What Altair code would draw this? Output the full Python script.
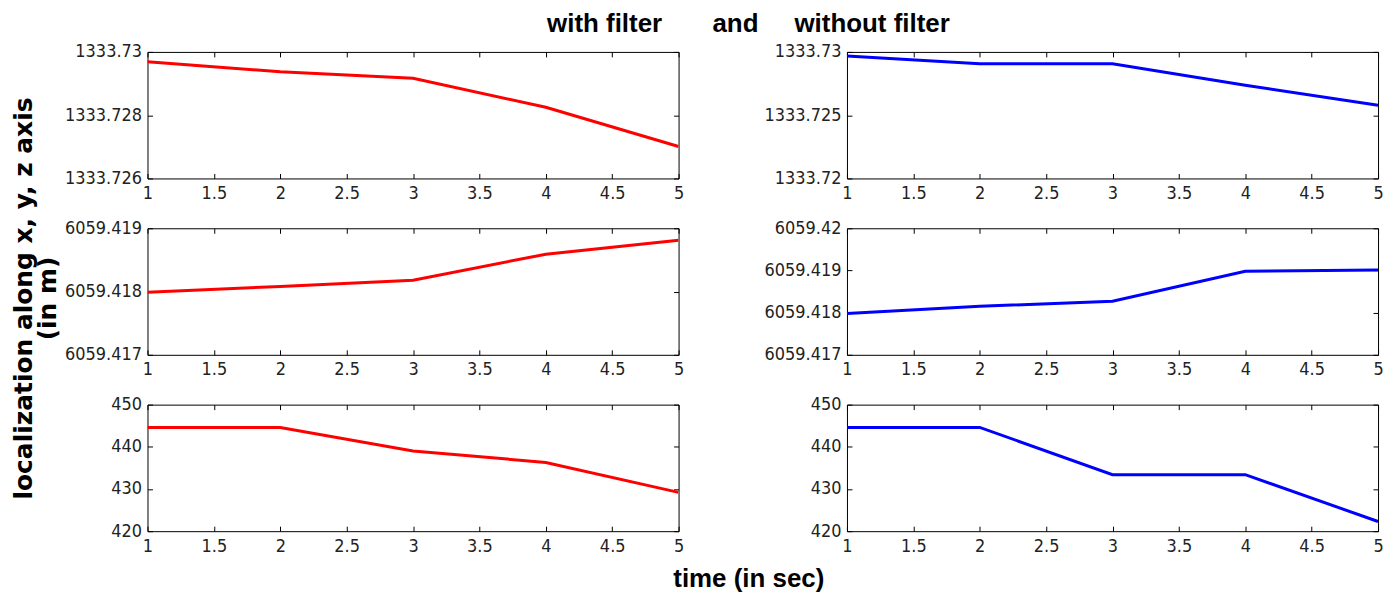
import altair as alt
import pandas as pd

# ---- data ----
t = [1, 2, 3, 4, 5]
x_filter = [1333.72969, 1333.72937, 1333.72917, 1333.72825, 1333.72701]
x_raw = [1333.72968, 1333.72907, 1333.72907, 1333.72736, 1333.72578]
y_filter = [6059.41799, 6059.41808, 6059.41818, 6059.41859, 6059.41881]
y_raw = [6059.41798, 6059.41815, 6059.41827, 6059.41898, 6059.41901]
z_filter = [444.6, 444.6, 439.0, 436.3, 429.2]
z_raw = [444.6, 444.6, 433.4, 433.4, 422.3]

x_ticks = [1, 1.5, 2, 2.5, 3, 3.5, 4, 4.5, 5]
yt_x_filter = [1333.726, 1333.728, 1333.73]
yt_x_raw = [1333.72, 1333.725, 1333.73]
yt_y_filter = [6059.417, 6059.418, 6059.419]
yt_y_raw = [6059.417, 6059.418, 6059.419, 6059.42]
yt_z = [420, 430, 440, 450]

title_text = ("with filter" + "\u00a0" * 7 + "and" + "\u00a0" * 5 + "without filter")
y_title = ["localization along x, y, z axis", "(in m)"]
x_title = "time (in sec)"

W, H = 533, 127
TICK = 5
LABEL_FONT = "Liberation Sans Narrow, DejaVu Sans Condensed, Liberation Sans, Arial"
TITLE_FONT = "Liberation Sans, Arial"
LABEL_STYLE = dict(labelFont=LABEL_FONT, labelFontSize=18, labelColor="#222",
                   tickColor="black", tickWidth=1)


def panel(vals, color, yticks, ytitle=False, xtitle=False):
    df = pd.DataFrame({"t": t, "v": vals})
    xs = alt.Scale(domain=[1, 5], nice=False, zero=False)
    ys = alt.Scale(domain=[yticks[0], yticks[-1]], nice=False, zero=False)

    bx = dict(orient="bottom", values=x_ticks, format="~g", offset=-TICK, tickSize=TICK,
              domain=False, grid=False, labelPadding=6, labelFlush=False,
              labelOverlap=False, **LABEL_STYLE)
    if xtitle:
        bx.update(title=x_title, titleX=603, titleY=61, titleAlign="center",
                  titleBaseline="alphabetic", titleFontSize=26, titleFont=TITLE_FONT,
                  titleFontWeight="bold", titleColor="black")
    else:
        bx.update(title="")
    ly = dict(orient="left", values=yticks, format=".10~g", offset=-TICK, tickSize=TICK,
              domain=False, grid=False, labelPadding=6, labelFlush=False,
              labelOverlap=False, **LABEL_STYLE)
    if ytitle:
        ly.update(title=y_title, titleX=-141, titleY=70, titleAngle=-90,
                  titleAlign="center", titleBaseline="top", titleFontSize=25,
                  titleFont="DejaVu Sans, Liberation Sans", titleFontWeight="bold",
                  titleColor="black", titleLineHeight=24)
    else:
        ly.update(title="")

    line = alt.Chart(df).mark_line(color=color, strokeWidth=3, clip=True).encode(
        x=alt.X("t:Q", scale=xs, axis=alt.Axis(**bx)),
        y=alt.Y("v:Q", scale=ys, axis=alt.Axis(**ly)),
    )
    ghost = alt.Chart(df).mark_line(opacity=0).encode(
        x=alt.X("t:Q", scale=xs, axis=alt.Axis(orient="top", values=x_ticks, offset=-TICK,
                                               tickSize=TICK, domain=False, grid=False,
                                               labels=False, title="", tickColor="black")),
        y=alt.Y("v:Q", scale=ys, axis=alt.Axis(orient="right", values=yticks, offset=-TICK,
                                               tickSize=TICK, domain=False, grid=False,
                                               labels=False, title="", tickColor="black")),
    )
    return alt.layer(line, ghost).resolve_axis(x="independent", y="independent").properties(
        width=W, height=H)


panels = [
    panel(x_filter, "#ff0000", yt_x_filter),
    panel(x_raw, "#0000ff", yt_x_raw),
    panel(y_filter, "#ff0000", yt_y_filter, ytitle=True),
    panel(y_raw, "#0000ff", yt_y_raw),
    panel(z_filter, "#ff0000", yt_z, xtitle=True),
    panel(z_raw, "#0000ff", yt_z),
]

chart = alt.concat(*panels, columns=2, spacing={"row": 50, "column": 169}, bounds="flush").properties(
    title=alt.TitleParams(text=title_text, anchor="start", frame="group", dx=401,
                          fontSize=26, font=TITLE_FONT, fontWeight="bold", color="black",
                          baseline="alphabetic", offset=-16),
    padding={"left": 3, "top": 2, "right": 5, "bottom": 5},
    background="white",
).configure_view(stroke="black", strokeWidth=1)

chart.save("out.html", embed_options={"renderer": "svg", "actions": False})
